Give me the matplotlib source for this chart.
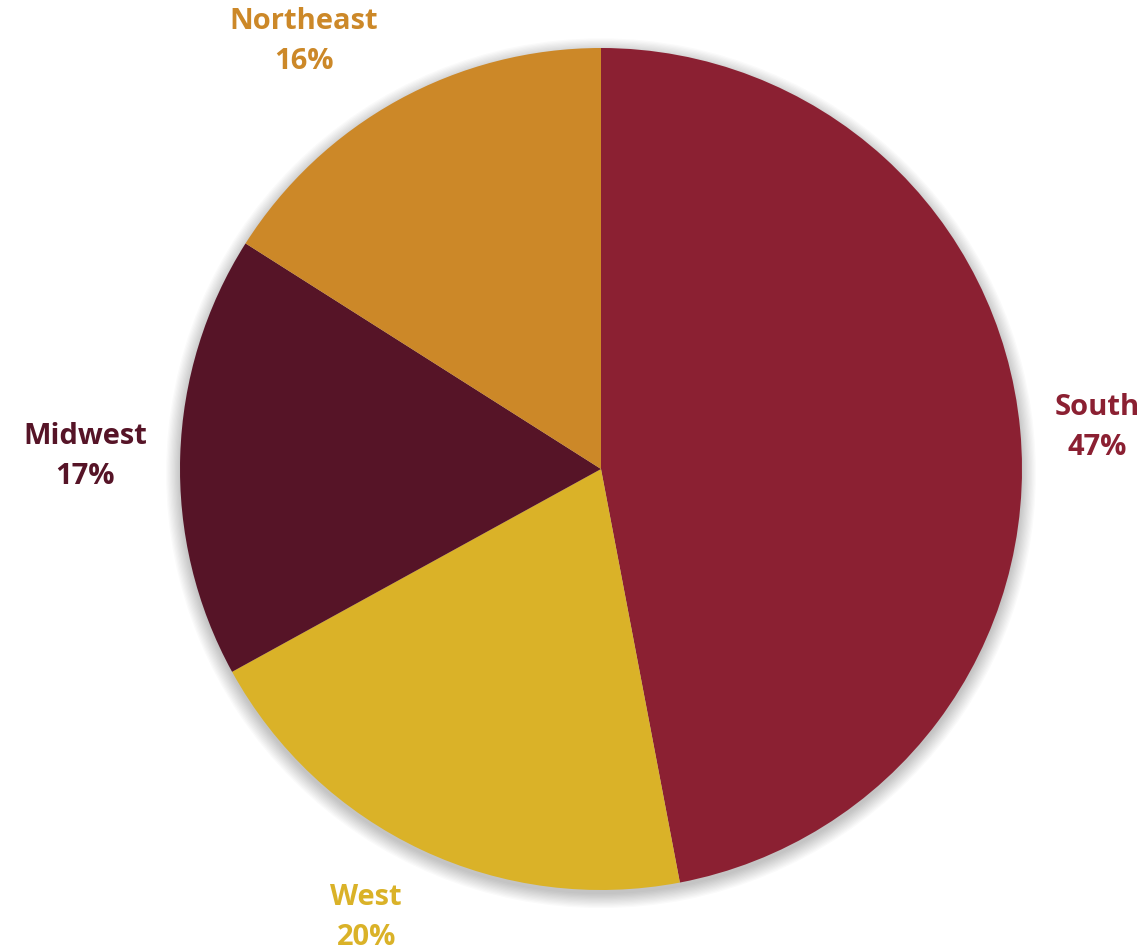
import numpy as np
import matplotlib.pyplot as plt
from matplotlib.patches import Circle

regions = ['South', 'West', 'Midwest', 'Northeast']
shares = [47, 20, 17, 16]
colors = ['#8B2032', '#DAB228', '#561427', '#CC8828']

# label placement: distance from centre (radii) and angle nudge (deg) off the slice middle
label_dist = [1.182, 1.20, 1.226, 1.239]
label_nudge = [-0.45, -2.5, 0.35, 5.9]

plt.rcParams['font.family'] = ['Open Sans', 'DejaVu Sans']

fig = plt.figure(figsize=(11.46, 9.53), dpi=100)
ax = fig.add_axes([0, 0, 1, 1])

# soft shadow round the pie
for i in range(12):
    ax.add_patch(Circle((0.0, -0.01), 1.0 + 0.003 * i, color='black',
                        alpha=0.018, lw=0, zorder=0))

wedges, _ = ax.pie(shares, colors=colors, startangle=90, counterclock=False,
                   radius=1.0, wedgeprops=dict(linewidth=0, zorder=1))

for w, name, val, col, d, nd in zip(wedges, regions, shares, colors,
                                    label_dist, label_nudge):
    mid = np.deg2rad((w.theta1 + w.theta2) / 2 + nd)
    x, y = d * np.cos(mid), d * np.sin(mid)
    ax.text(x, y, f'{name}\n{val}%', ha='center', va='center', color=col,
            fontsize=21, fontweight='bold', linespacing=1.5)

ax.set_aspect('auto')
ax.set_xlim(-601 / 421, (1146 - 601) / 421)
ax.set_ylim(-483 / 421, 470 / 421)
ax.axis('off')

fig.savefig('out.png', dpi=100)
